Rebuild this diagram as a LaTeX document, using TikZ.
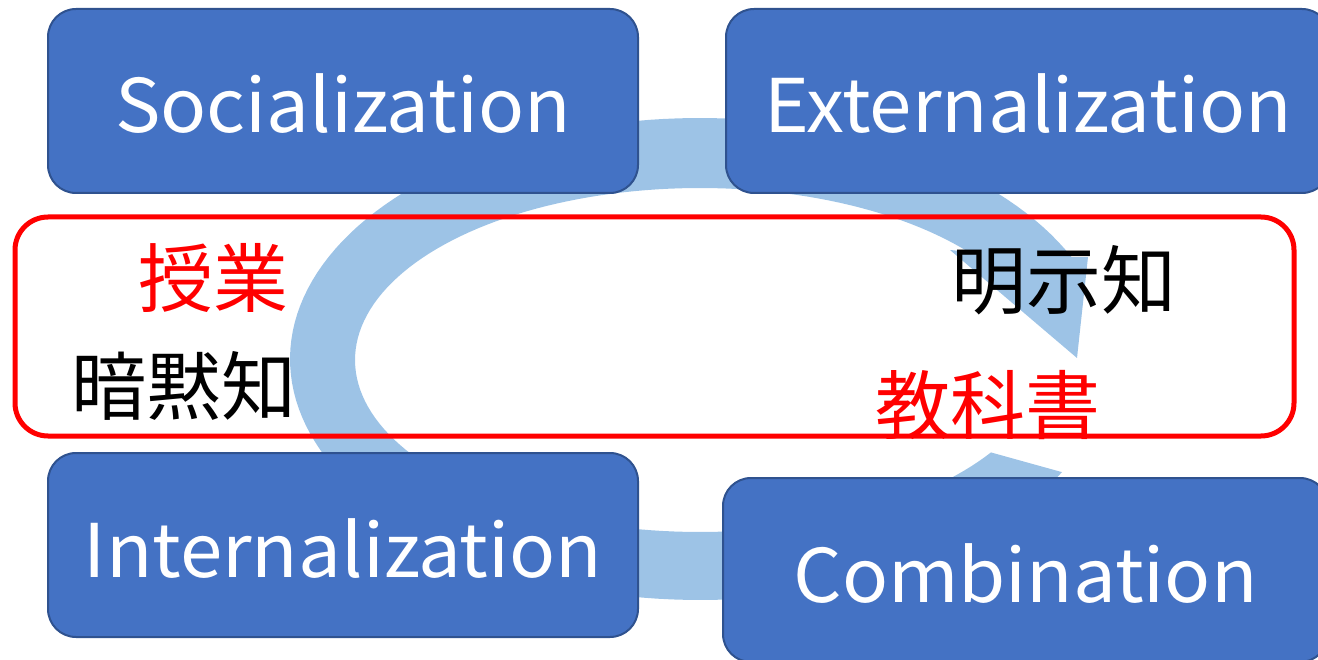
\documentclass[tikz,border=0pt]{standalone}
\usepackage{fontspec}
\setmainfont{Noto Sans CJK JP}
\newfontfamily\boxfont[FakeStretch=1.03]{Noto Sans CJK JP}
\definecolor{boxblue}{HTML}{4472C4}
\definecolor{boxedge}{HTML}{2F528F}
\definecolor{arrowblue}{HTML}{9DC3E6}
\definecolor{pured}{HTML}{FF0000}
\tikzset{
  stagebox/.style={rectangle, rounded corners=28pt, fill=boxblue, draw=boxedge, line width=2pt,
    text=white, font=\boxfont\fontsize{74}{80}\selectfont, text height=64pt, text depth=0pt, inner sep=0pt},
  jplabel/.style={font=\fontsize{75}{80}\selectfont, inner sep=0pt},
  frame/.style={draw=pured, line width=5pt, rounded corners=33pt}
}
\begin{document}
\begin{tikzpicture}[x=1pt,y=-1pt]
\useasboundingbox (0,0) rectangle (1318,660);
\clip (0,0) rectangle (1318,660);
% circular arrow
\fill[arrowblue] plot[domain=28:335,samples=150] ({700+410*cos(\x)},{359+241*sin(\x)})
  -- (1088,257) -- (1077,358) -- (950,250)
  -- plot[domain=321:32.5,samples=150] ({700+345*cos(\x)},{360+172*sin(\x)}) -- cycle;
% red frame
\node[frame, minimum width=1279pt, minimum height=219pt] (fr) at (654.5,326.5) {};
% boxes
\node[stagebox, minimum width=590pt, minimum height=184pt] (soc) at (343,101) {Socialization};
\node[stagebox, minimum width=604pt, minimum height=184pt] (ext) at (1028,101) {Externalization};
\node[stagebox, minimum width=590pt, minimum height=184pt] (int) at (343,545) {Internalization};
\node[stagebox, minimum width=605pt, minimum height=184pt] (com) at (1025.5,570) {Combination};
% labels
\node[jplabel, text=pured] (jugyo) at (213,278) {授業};
\node[jplabel] (anmoku) at (184,386) {暗黙知};
\node[jplabel] (meiji) at (1064,280) {明示知};
\node[jplabel, text=pured] (kyoka) at (988,405) {教科書};
\end{tikzpicture}
\end{document}
